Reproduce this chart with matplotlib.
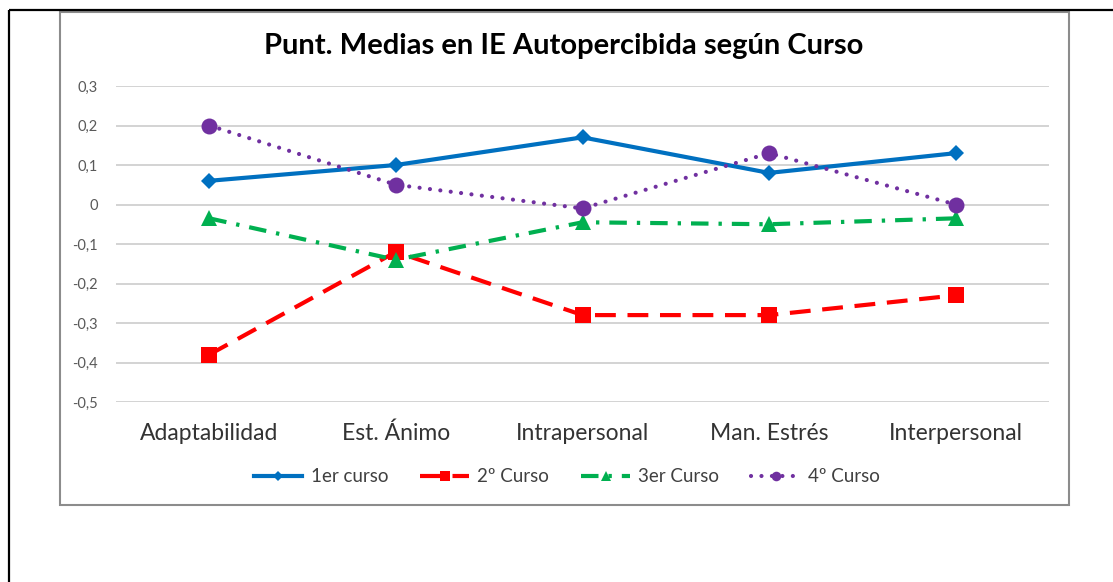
import matplotlib
matplotlib.use("Agg")
import matplotlib.pyplot as plt
from matplotlib.lines import Line2D
from matplotlib.patches import Rectangle

# data
categories = ["Adaptabilidad", "Est. Ánimo", "Intrapersonal", "Man. Estrés", "Interpersonal"]
curso1 = [0.06, 0.10, 0.17, 0.08, 0.13]
curso2 = [-0.38, -0.12, -0.28, -0.28, -0.23]
curso3 = [-0.035, -0.14, -0.045, -0.05, -0.035]
curso4 = [0.20, 0.05, -0.01, 0.13, 0.00]
series_names = ["1er curso", "2º Curso", "3er Curso", "4º Curso"]
yticks = [0.3, 0.2, 0.1, 0.0, -0.1, -0.2, -0.3, -0.4, -0.5]
ytick_labels = ["0,3", "0,2", "0,1", "0", "-0,1", "-0,2", "-0,3", "-0,4", "-0,5"]

W, H = 1113, 582
plt.rcParams["font.family"] = ["Lato", "DejaVu Sans"]

fig = plt.figure(figsize=(W / 100, H / 100), dpi=100)

# page frame lines and chart box (pixel coords)
frame = fig.add_axes([0, 0, 1, 1], zorder=0)
frame.set_xlim(0, W)
frame.set_ylim(H, 0)
frame.axis("off")
frame.plot([9, 9], [10, H], color="black", lw=1.6, solid_capstyle="butt")
frame.plot([9, W], [10, 10], color="black", lw=1.6, solid_capstyle="butt")
frame.add_patch(Rectangle((60, 12), 1009, 493, fill=False, ec="#8c8c8c", lw=1.5))

ax = fig.add_axes([116 / W, 1 - 402 / H, (1049 - 116) / W, (402 - 86) / H], zorder=1)
ax.patch.set_alpha(0)
x = list(range(len(categories)))

styles = [
    dict(color="#0070C0", marker="D", ms=8.5, ls="-"),
    dict(color="#FF0000", marker="s", ms=11.5, dashes=(5, 2.8)),
    dict(color="#00B050", marker="^", ms=11, dashes=(4.2, 2.4, 0.8, 2.4)),
    dict(color="#7030A0", marker="o", ms=11.5, dashes=(0.01, 2.5), dash_capstyle="round"),
]
data = [curso1, curso2, curso3, curso4]
for vals, st, name in zip(data, styles, series_names):
    ax.plot(x, vals, lw=3.0, mew=0, label=name, **st)

ax.set_xlim(-0.5, len(categories) - 0.5)
ax.set_ylim(-0.5, 0.3)
ax.set_yticks(yticks)
ax.set_yticklabels(ytick_labels, fontsize=10.5, color="#595959")
ax.set_xticks(x)
ax.set_xticklabels(categories, fontsize=16.5, color="#333333")
ax.tick_params(axis="y", length=0, pad=13)
ax.tick_params(axis="x", length=0, pad=15)
ax.grid(axis="y", color="#d0d0d0", lw=1.3)
ax.set_axisbelow(True)
for s in ax.spines.values():
    s.set_visible(False)

fig.text(564 / W, 1 - 46 / H, "Punt. Medias en IE Autopercibida según Curso",
         ha="center", va="center", fontsize=21, fontweight="bold", color="black")

handles = []
for st, name in zip(styles, series_names):
    st2 = dict(st)
    st2["ms"] = st["ms"] * 0.6
    handles.append(Line2D([], [], lw=3.0, mew=0, label=name, **st2))
fig.legend(handles=handles, loc="center", bbox_to_anchor=(567 / W, 1 - 477 / H),
           ncol=4, frameon=False, fontsize=13.5, labelcolor="#404040",
           handlelength=2.6, columnspacing=1.7, handletextpad=0.45)

fig.savefig("out.png", dpi=100, facecolor="white")
